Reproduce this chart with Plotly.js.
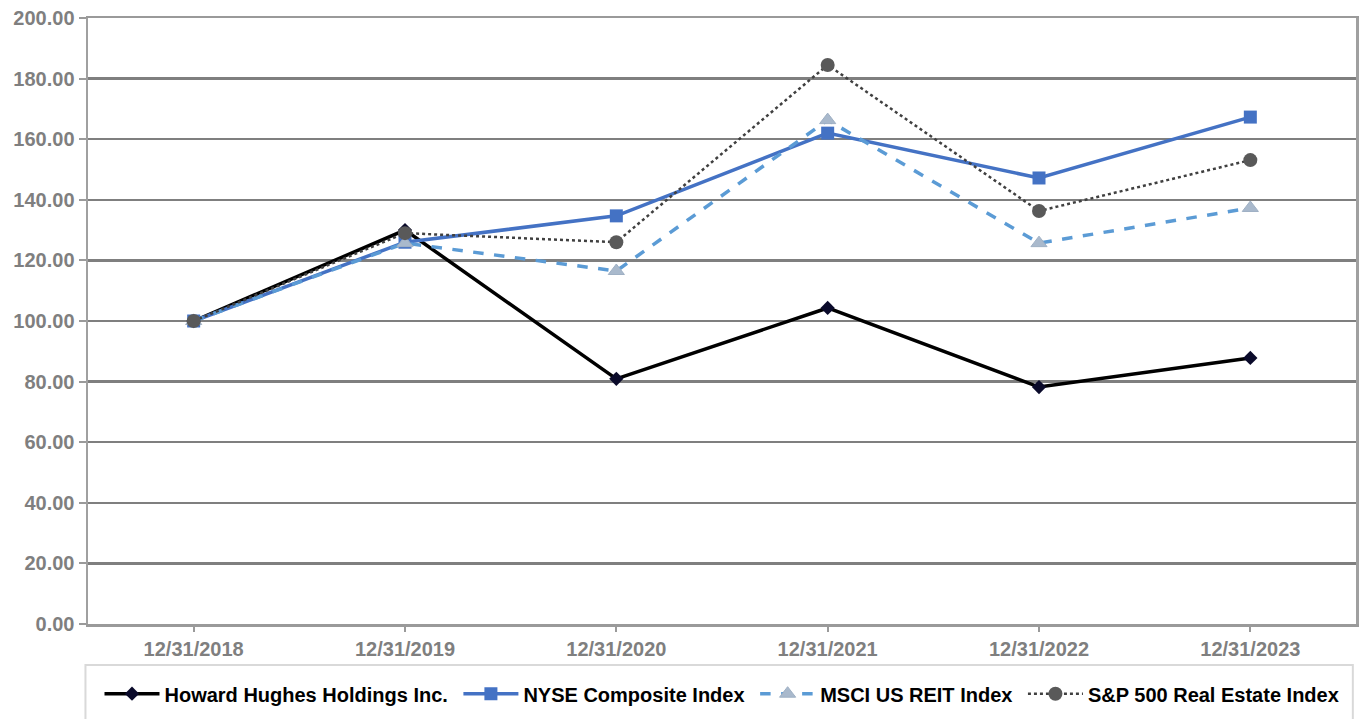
<!DOCTYPE html>
<html>
<head>
<meta charset="utf-8">
<script src="https://cdn.plot.ly/plotly-3.0.1.min.js"></script>
<style>html,body{margin:0;padding:0;background:#fff;}#chart{width:1359px;height:719px;}</style>
</head>
<body>
<div id="chart"></div>
<script>
const categories = ["12/31/2018", "12/31/2019", "12/31/2020", "12/31/2021", "12/31/2022", "12/31/2023"];
const hhh = [100.00, 130.00, 80.90, 104.30, 78.20, 87.80];
const nyse = [100.00, 126.00, 134.70, 162.00, 147.20, 167.30];
const msci = [100.00, 125.70, 116.50, 166.30, 125.70, 137.30];
const sp500re = [100.00, 129.00, 126.00, 184.50, 136.30, 153.10];
const seriesNames = ["Howard Hughes Holdings Inc.", "NYSE Composite Index", "MSCI US REIT Index", "S&P 500 Real Estate Index"];
const yTicks = [0, 20, 40, 60, 80, 100, 120, 140, 160, 180, 200];

const pad = "\u00a0";
const traces = [
  {x: categories, y: hhh, name: seriesNames[0] + pad, mode: "lines+markers", type: "scatter",
   line: {color: "#000000", width: 3.5},
   marker: {symbol: "diamond", size: 11, color: "#0a0a2a"}},
  {x: categories, y: nyse, name: seriesNames[1] + pad, mode: "lines+markers", type: "scatter",
   line: {color: "#4472C4", width: 3.5},
   marker: {symbol: "square", size: 13, color: "#4472C4"}},
  {x: categories, y: msci, name: seriesNames[2] + pad, mode: "lines+markers", type: "scatter",
   line: {color: "#5B9BD5", width: 3.5, dash: "dash"},
   marker: {symbol: "triangle-up", size: 14, color: "#A9B9CC", line: {color: "#9fb0c4", width: 1}}},
  {x: categories, y: sp500re, name: seriesNames[3], mode: "lines+markers", type: "scatter",
   line: {color: "#404040", width: 2.5, dash: "dot"},
   marker: {symbol: "circle", size: 14, color: "#595959"}}
];

const tickFont = {family: "Liberation Sans, Arial, sans-serif", size: 20, color: "#7f7f7f", weight: "bold"};

const layout = {
  width: 1359, height: 719,
  margin: {l: 88, r: 3, t: 18, b: 95},
  paper_bgcolor: "#ffffff", plot_bgcolor: "#ffffff",
  showlegend: true,
  legend: {
    orientation: "h", x: 0.5, xanchor: "center", y: -0.115, yanchor: "middle",
    font: {family: "Liberation Sans, Arial, sans-serif", size: 20, color: "#000000", weight: "bold"},
    itemwidth: 55, tracegroupgap: 0, bgcolor: "rgba(0,0,0,0)"
  },
  xaxis: {
    type: "category", tickfont: tickFont,
    showgrid: false, showline: true, linecolor: "#9a9a9a", linewidth: 2.5, mirror: true,
    ticks: "outside", ticklen: 5, tickcolor: "#9a9a9a", tickwidth: 2,
    range: [-0.5, 5.5], fixedrange: true
  },
  yaxis: {
    range: [0, 200], tickvals: yTicks, ticktext: yTicks.map(v => v.toFixed(2)),
    tickfont: tickFont, showgrid: true, gridcolor: "#7f7f7f", gridwidth: 2.5,
    showline: true, linecolor: "#a0a0a0", linewidth: 2.5, mirror: true,
    ticks: "outside", ticklen: 7, tickcolor: "#9a9a9a", tickwidth: 2,
    zeroline: false, fixedrange: true
  },
  shapes: [{
    type: "rect", xref: "paper", yref: "paper",
    x0: -0.002, x1: 0.9975, y0: -0.0677, y1: -0.16,
    line: {color: "#d9d9d9", width: 2}, fillcolor: "rgba(0,0,0,0)", layer: "below"
  }]
};

Plotly.newPlot("chart", traces, layout, {displayModeBar: false, staticPlot: true});
</script>
</body>
</html>
